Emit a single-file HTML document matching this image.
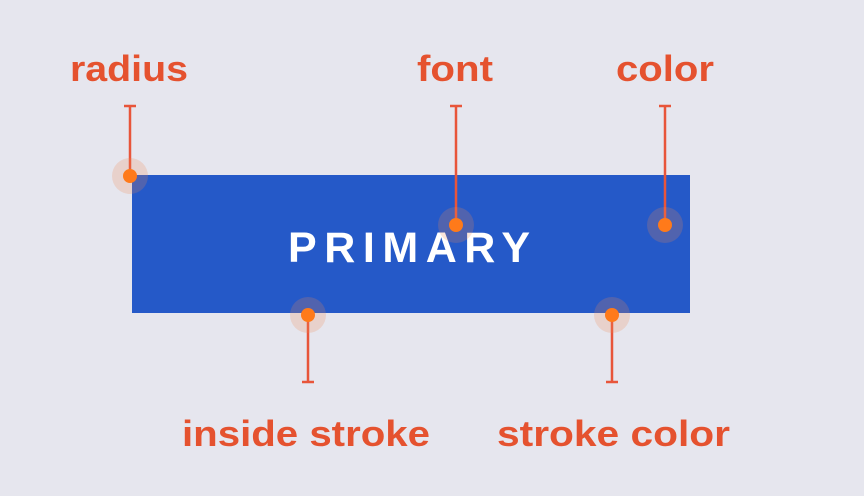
<!DOCTYPE html>
<html><head><style>
html,body{margin:0;padding:0;background:#e6e6ee;}
svg{display:block}
</style></head><body>
<svg width="864" height="496" viewBox="0 0 864 496" xmlns="http://www.w3.org/2000/svg">
<rect width="864" height="496" fill="#e6e6ee"/>
<rect x="132" y="175" width="558" height="138" fill="#2559c8"/>
<text x="288" y="262" font-family="Liberation Sans, sans-serif" font-weight="bold" font-size="43" textLength="242" lengthAdjust="spacing" fill="#ffffff">PRIMARY</text>
<g stroke="#e8553a" stroke-width="2.5">
<line x1="130" y1="106" x2="130" y2="175"/><line x1="124" y1="106" x2="136" y2="106"/>
<line x1="456" y1="106" x2="456" y2="225"/><line x1="450" y1="106" x2="462" y2="106"/>
<line x1="665" y1="106" x2="665" y2="225"/><line x1="659" y1="106" x2="671" y2="106"/>
<line x1="308" y1="315" x2="308" y2="382"/><line x1="302" y1="382" x2="314" y2="382"/>
<line x1="612" y1="315" x2="612" y2="382"/><line x1="606" y1="382" x2="618" y2="382"/>
</g>
<g fill="#f08a50" fill-opacity="0.22">
<circle cx="130" cy="176" r="18"/><circle cx="456" cy="225" r="18"/><circle cx="665" cy="225" r="18"/>
<circle cx="308" cy="315" r="18"/><circle cx="612" cy="315" r="18"/>
</g>
<g fill="#ff7a1a">
<circle cx="130" cy="176" r="7"/><circle cx="456" cy="225" r="7"/><circle cx="665" cy="225" r="7"/>
<circle cx="308" cy="315" r="7"/><circle cx="612" cy="315" r="7"/>
</g>
<g font-family="Liberation Sans, sans-serif" font-weight="bold" font-size="36" fill="#e5522f">
<text x="70" y="81" textLength="118" lengthAdjust="spacingAndGlyphs">radius</text>
<text x="417" y="81" textLength="76" lengthAdjust="spacingAndGlyphs">font</text>
<text x="616" y="81" textLength="98" lengthAdjust="spacingAndGlyphs">color</text>
<text x="182" y="446" textLength="248" lengthAdjust="spacingAndGlyphs">inside stroke</text>
<text x="497" y="446" textLength="233" lengthAdjust="spacingAndGlyphs">stroke color</text>
</g>
</svg>
</body></html>
